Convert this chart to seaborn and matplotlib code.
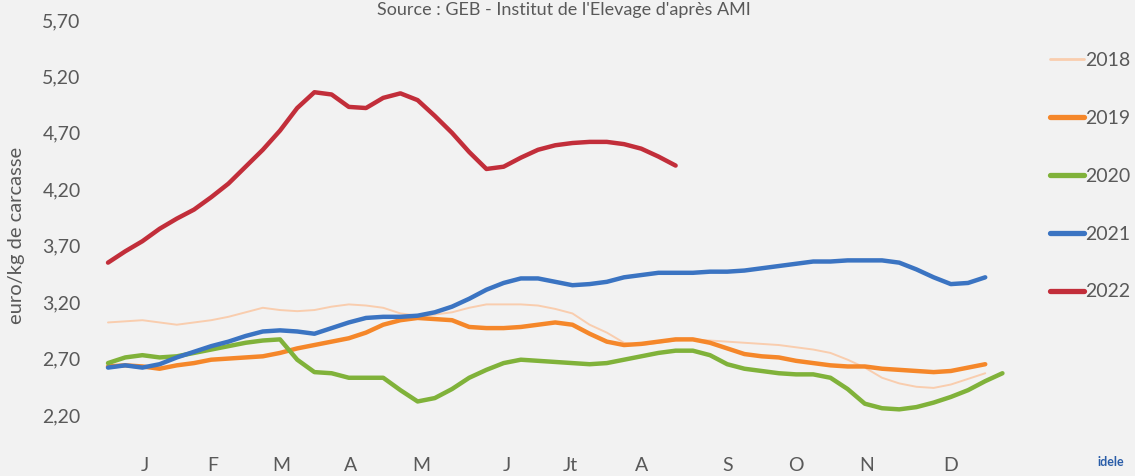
import numpy as np
import pandas as pd
import matplotlib
matplotlib.use("Agg")
import matplotlib.pyplot as plt
import seaborn as sns
from matplotlib.lines import Line2D

# ---------------- data ----------------
years = ["2018", "2019", "2020", "2021", "2022"]

v2018 = [3.02, 3.03, 3.04, 3.02, 3.00, 3.02, 3.04, 3.07, 3.11, 3.15, 3.13, 3.12, 3.13,
         3.16, 3.18, 3.17, 3.15, 3.10, 3.08, 3.09, 3.11, 3.15, 3.18, 3.18, 3.18, 3.17,
         3.14, 3.10, 3.00, 2.93, 2.84, 2.82, 2.84, 2.86, 2.87, 2.86, 2.85, 2.84, 2.83,
         2.82, 2.80, 2.78, 2.75, 2.69, 2.62, 2.53, 2.48, 2.45, 2.44, 2.47, 2.52, 2.57]
v2019 = [2.63, 2.64, 2.63, 2.61, 2.64, 2.66, 2.69, 2.70, 2.71, 2.72, 2.75, 2.79, 2.82,
         2.85, 2.88, 2.93, 3.00, 3.04, 3.06, 3.05, 3.04, 2.98, 2.97, 2.97, 2.98, 3.00,
         3.02, 3.00, 2.92, 2.85, 2.82, 2.83, 2.85, 2.87, 2.87, 2.84, 2.79, 2.74, 2.72,
         2.71, 2.68, 2.66, 2.64, 2.63, 2.63, 2.61, 2.60, 2.59, 2.58, 2.59, 2.62, 2.65]
v2020 = [2.66, 2.71, 2.73, 2.71, 2.72, 2.75, 2.78, 2.81, 2.84, 2.86, 2.87, 2.69, 2.58,
         2.57, 2.53, 2.53, 2.53, 2.42, 2.32, 2.35, 2.43, 2.53, 2.60, 2.66, 2.69, 2.68,
         2.67, 2.66, 2.65, 2.66, 2.69, 2.72, 2.75, 2.77, 2.77, 2.73, 2.65, 2.61, 2.59,
         2.57, 2.56, 2.56, 2.53, 2.43, 2.30, 2.26, 2.25, 2.27, 2.31, 2.36, 2.42, 2.50, 2.57]
v2021 = [2.62, 2.64, 2.62, 2.65, 2.71, 2.76, 2.81, 2.85, 2.90, 2.94, 2.95, 2.94, 2.92,
         2.97, 3.02, 3.06, 3.07, 3.07, 3.08, 3.11, 3.16, 3.23, 3.31, 3.37, 3.41, 3.41,
         3.38, 3.35, 3.36, 3.38, 3.42, 3.44, 3.46, 3.46, 3.46, 3.47, 3.47, 3.48, 3.50,
         3.52, 3.54, 3.56, 3.56, 3.57, 3.57, 3.57, 3.55, 3.49, 3.42, 3.36, 3.37, 3.42]
v2022 = [3.55, 3.65, 3.74, 3.85, 3.94, 4.02, 4.13, 4.25, 4.40, 4.55, 4.72, 4.92, 5.06,
         5.04, 4.93, 4.92, 5.01, 5.05, 4.99, 4.85, 4.70, 4.53, 4.38, 4.40, 4.48, 4.55,
         4.59, 4.61, 4.62, 4.62, 4.60, 4.56, 4.49, 4.41]

month_labels = ["J", "F", "M", "A", "M", "J", "Jt", "A", "S", "O", "N", "D"]
month_weeks = [3.15, 7.1, 11.1, 15.1, 19.2, 24.2, 27.9, 32.0, 37.0, 41.0, 45.1, 50.0]
y_ticks = [2.20, 2.70, 3.20, 3.70, 4.20, 4.70, 5.20, 5.70]

series = {"2018": v2018, "2019": v2019, "2020": v2020, "2021": v2021, "2022": v2022}
frames = []
for yr, vals in series.items():
    frames.append(pd.DataFrame({"week": np.arange(1, len(vals) + 1),
                                "price": vals, "year": yr}))
df = pd.concat(frames, ignore_index=True)

colors = {"2018": "#F9CDAE", "2019": "#F5872A", "2020": "#80B23A",
          "2021": "#3B74C2", "2022": "#C22E3A"}
widths = {"2018": 1.4, "2019": 3.2, "2020": 3.2, "2021": 3.2, "2022": 3.2}

# ---------------- figure ----------------
sns.set_theme(style="white")
plt.rcParams["font.family"] = ["Lato", "DejaVu Sans"]
bg = "#F2F2F2"
fig = plt.figure(figsize=(11.35, 4.76), dpi=100, facecolor=bg)
ax = fig.add_axes([100 / 1135, 1 - 415 / 476, 915 / 1135, (415 - 20) / 476])
ax.set_facecolor(bg)

for yr in years:
    sub = df[df["year"] == yr]
    sns.lineplot(data=sub, x="week", y="price", ax=ax, color=colors[yr],
                 linewidth=widths[yr], legend=False, zorder=3 if yr != "2018" else 2,
                 solid_capstyle="round", solid_joinstyle="round")

ax.set_xlim(0.535, 53.73)
ax.set_ylim(2.20, 5.70)
ax.set_yticks(y_ticks)
ax.set_yticklabels([f"{t:.2f}".replace(".", ",") for t in y_ticks])
ax.set_xticks(month_weeks)
ax.set_xticklabels(month_labels)
ax.tick_params(axis="y", length=0, pad=14, labelsize=14, labelcolor="#595959")
ax.tick_params(axis="x", length=0, pad=30, labelsize=14, labelcolor="#595959")
ax.set_xlabel("")
ax.set_ylabel("euro/kg de carcasse", fontsize=14.5, color="#595959")
ax.yaxis.set_label_coords(-0.082, 0.455)
for s in ax.spines.values():
    s.set_visible(False)
ax.grid(False)

# legend
handles = [Line2D([0], [0], color=colors[y], lw=widths[y] + 0.6) for y in years]
leg = fig.legend(handles, years, loc="upper left",
                 bbox_to_anchor=(1050 / 1135, 1 - 52 / 476), frameon=False,
                 fontsize=14, labelcolor="#595959", handlelength=1.75,
                 handletextpad=0.05, labelspacing=2.1, borderpad=0,
                 borderaxespad=0)

# source
fig.text(0.497, 1 - 2 / 476, "Source : GEB - Institut de l'Elevage d'après AMI",
         ha="center", va="top", fontsize=13, color="#595959")

# logo text
fig.text(1098 / 1135, 1 - 466 / 476, "idele", ha="left", va="baseline",
         fontsize=9, color="#2A5DA8", fontweight="bold")

fig.savefig("out.png", dpi=100, facecolor=bg)
